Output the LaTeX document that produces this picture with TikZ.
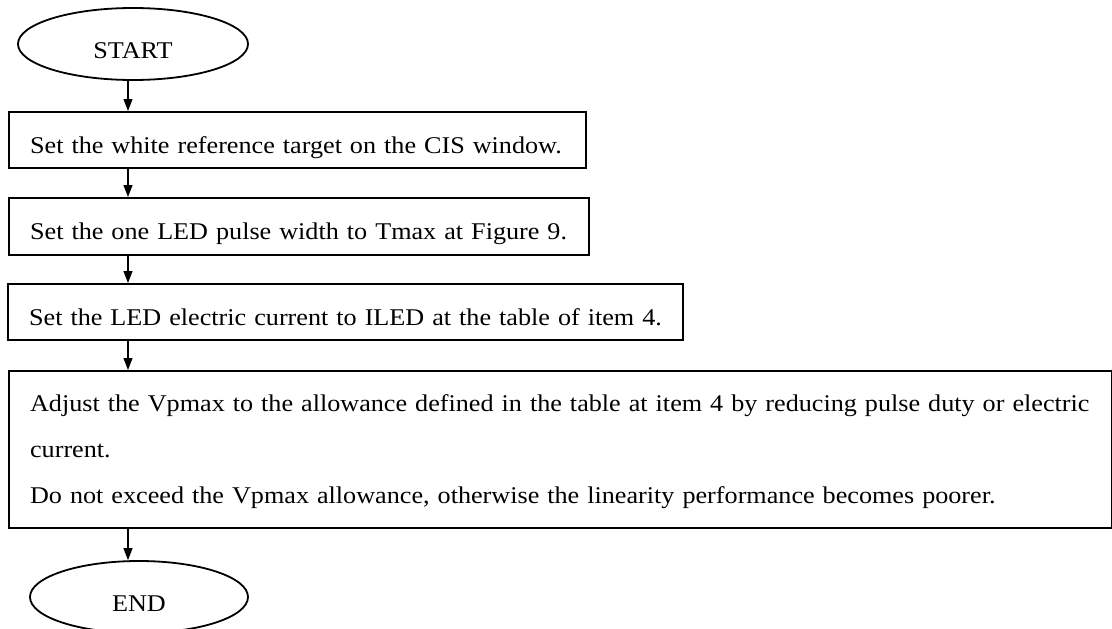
\documentclass[tikz,border=0pt]{standalone}
\usepackage{fontspec}
\setmainfont[FakeStretch=1.09]{Liberation Serif}
\usetikzlibrary{arrows.meta,shapes.geometric}
\begin{document}
\begin{tikzpicture}[x=1pt,y=-1pt,
  term/.style={draw,ellipse,line width=1.8pt,minimum width=230pt,minimum height=72pt,inner sep=0pt,
    font=\fontsize{24}{28}\selectfont,text height=30pt,text depth=2pt},
  stepbox/.style={draw,rectangle,line width=2.2pt,anchor=north west,inner xsep=21pt,inner ysep=0pt,
    align=left,font=\fontsize{24}{46}\selectfont},
  onebox/.style={stepbox,text height=30pt,text depth=4pt},
  arr/.style={-{Triangle[length=12pt,width=9pt]},line width=1.2pt}]
\useasboundingbox (0,0) rectangle (1112,629);
\coordinate (ax) at (128,0);
\node[term] (start) at (133,44) {START};
\node[onebox,minimum width=577pt,minimum height=56pt,text width=535pt] (b1) at (8,111)
  {Set the white reference target on the CIS window.};
\node[onebox,minimum width=580pt,minimum height=57pt,text width=538pt] (b2) at (8,197)
  {Set the one LED pulse width to Tmax at Figure 9.};
\node[onebox,minimum width=675pt,minimum height=56pt,text width=633pt] (b3) at (7,283)
  {Set the LED electric current to ILED at the table of item 4.};
\node[stepbox,minimum width=1103pt,text width=1061pt,text height=40pt,text depth=117pt] (b4) at (8,370)
  {Adjust the Vpmax to the allowance defined in the table at item 4 by reducing pulse duty or electric\\
   current.\\
   Do not exceed the Vpmax allowance, otherwise the linearity performance becomes poorer.};
\node[term,minimum width=218pt] (end) at (139,597) {END};
\draw[arr] (start.south -| ax) -- (b1.north -| ax);
\draw[arr] (b1.south -| ax) -- (b2.north -| ax);
\draw[arr] (b2.south -| ax) -- (b3.north -| ax);
\draw[arr] (b3.south -| ax) -- (b4.north -| ax);
\draw[arr] (b4.south -| ax) -- (end.north -| ax);
\end{tikzpicture}
\end{document}
